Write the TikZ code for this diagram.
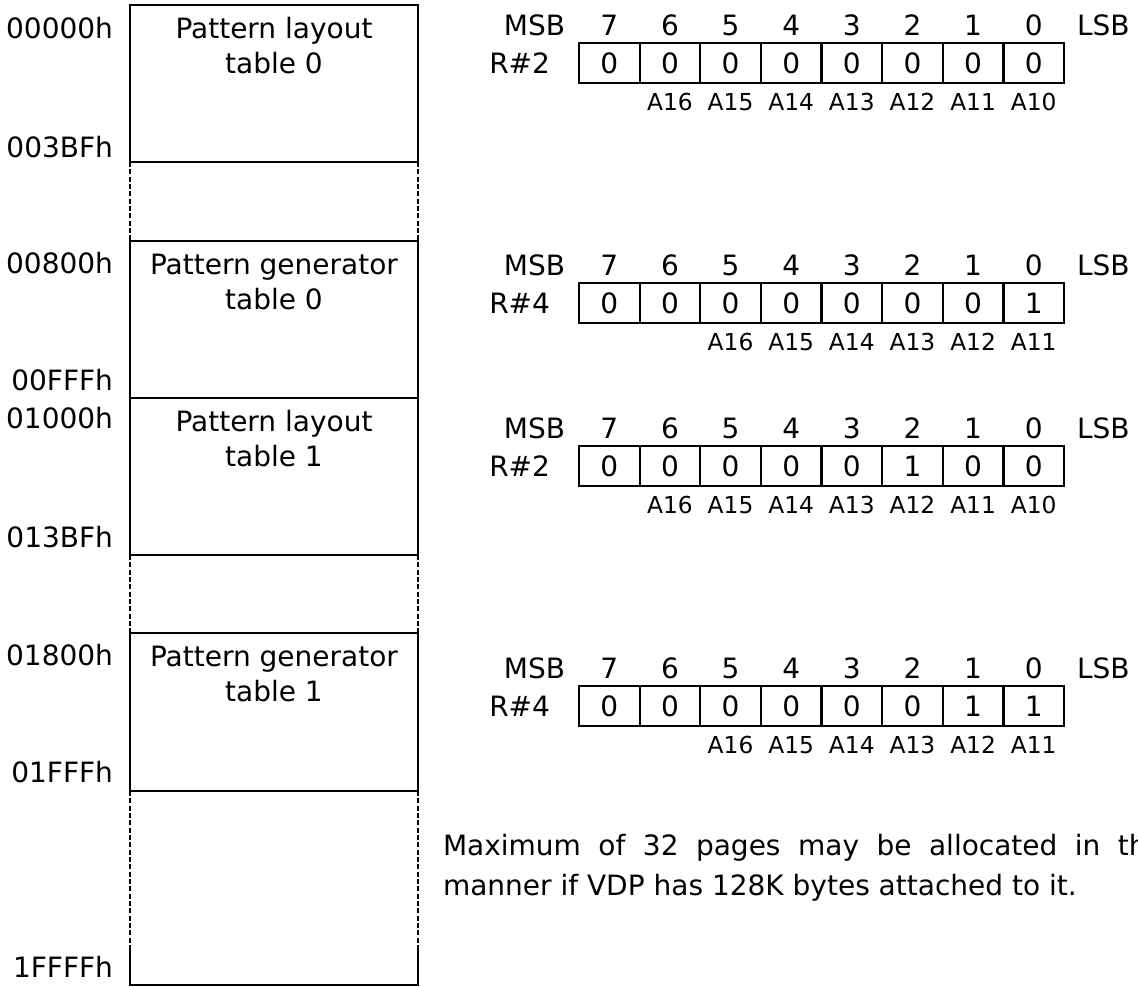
\documentclass[tikz,border=0pt]{standalone}
\usepackage{fontspec}
\setmainfont{DejaVu Sans}
\tikzset{
  every node/.style={inner sep=0pt, outer sep=0pt},
  big/.style={font=\fontsize{21pt}{24pt}\selectfont},
  small/.style={font=\fontsize{17.5pt}{20pt}\selectfont},
  memline/.style={line width=1.8pt},
  gapline/.style={line width=1.4pt, dash pattern=on 3.8pt off 1.7pt},
  cell/.style={draw, line width=1.7pt, minimum width=45.47pt, minimum height=30pt, big},
}
\newcommand\myreg[4]{%
  \node[big, anchor=base east] (#1msb) at (565,#2-8) {MSB};
  \node[big, anchor=base west] (#1lsb) at (1077,#2-8) {LSB};
  \node[big, anchor=base east] (#1name) at (550,#2+30) {#3};
  \foreach \v [count=\i from 0] in {#4} {
    \pgfmathsetmacro\cx{579+60.625*(\i+0.5)}
    \pgfmathtruncatemacro\bit{7-\i}
    \node[big, anchor=base] (#1n\bit) at (\cx,#2-8) {\bit};
    \node[cell] (#1b\bit) at (\cx,#2+20) {\v};
  }
}
\begin{document}
\begin{tikzpicture}[x=0.75pt,y=-0.75pt]
\useasboundingbox (0,0) rectangle (1138,986);
\begin{scope}
\clip (0,0) rectangle (1138,986);
\fill[white] (0,0) rectangle (1138,986);

% memory map column
\draw[memline] (130,5) rectangle (418,162);
\draw[memline] (130,241) rectangle (418,398);
\draw[memline] (130,398) rectangle (418,555);
\draw[memline] (130,633) rectangle (418,791);
\draw[gapline] (130,162) -- (130,241) (418,162) -- (418,241);
\draw[gapline] (130,555) -- (130,633) (418,555) -- (418,633);
\draw[gapline] (130,791) -- (130,946) (418,791) -- (418,946);
\draw[memline] (130,946) -- (130,985) -- (418,985) -- (418,946);

\node[big, anchor=base] (t1a) at (274,38) {Pattern layout};
\node[big, anchor=base] (t1b) at (274,73) {table 0};
\node[big, anchor=base] (t2a) at (274,274) {Pattern generator};
\node[big, anchor=base] (t2b) at (274,309) {table 0};
\node[big, anchor=base] (t3a) at (274,431) {Pattern layout};
\node[big, anchor=base] (t3b) at (274,466) {table 1};
\node[big, anchor=base] (t4a) at (274,666) {Pattern generator};
\node[big, anchor=base] (t4b) at (274,701) {table 1};

\node[big, anchor=base east] (l1) at (113,38) {00000h};
\node[big, anchor=base east] (l2) at (113,157) {003BFh};
\node[big, anchor=base east] (l3) at (113,273) {00800h};
\node[big, anchor=base east] (l4) at (113,390) {00FFFh};
\node[big, anchor=base east] (l5) at (113,428) {01000h};
\node[big, anchor=base east] (l6) at (113,547) {013BFh};
\node[big, anchor=base east] (l7) at (113,665) {01800h};
\node[big, anchor=base east] (l8) at (113,782) {01FFFh};
\node[big, anchor=base east] (l9) at (113,977) {1FFFFh};

% registers
\myreg{ra}{43}{R\#2}{0,0,0,0,0,0,0,0}
\foreach \b/\t in {6/A16,5/A15,4/A14,3/A13,2/A12,1/A11,0/A10}
  \node[small, anchor=base] (raa\b) at ({579+60.625*(7-\b+0.5)},110) {\t};

\myreg{rb}{283}{R\#4}{0,0,0,0,0,0,0,1}
\foreach \b/\t in {5/A16,4/A15,3/A14,2/A13,1/A12,0/A11}
  \node[small, anchor=base] (rba\b) at ({579+60.625*(7-\b+0.5)},350) {\t};

\myreg{rc}{446}{R\#2}{0,0,0,0,0,1,0,0}
\foreach \b/\t in {6/A16,5/A15,4/A14,3/A13,2/A12,1/A11,0/A10}
  \node[small, anchor=base] (rca\b) at ({579+60.625*(7-\b+0.5)},513) {\t};

\myreg{rd}{686}{R\#4}{0,0,0,0,0,0,1,1}
\foreach \b/\t in {5/A16,4/A15,3/A14,2/A13,1/A12,0/A11}
  \node[small, anchor=base] (rda\b) at ({579+60.625*(7-\b+0.5)},753) {\t};

% note (the reference cuts the first line off at the right edge)
\node[big, anchor=base west] (note1) at (443,855)
  {\makebox[544.5pt][s]{Maximum of 32 pages may be allocated in this}};
\node[big, anchor=base west] (note2) at (443,895)
  {manner if VDP has 128K bytes attached to it.};
\end{scope}
\end{tikzpicture}
\end{document}
